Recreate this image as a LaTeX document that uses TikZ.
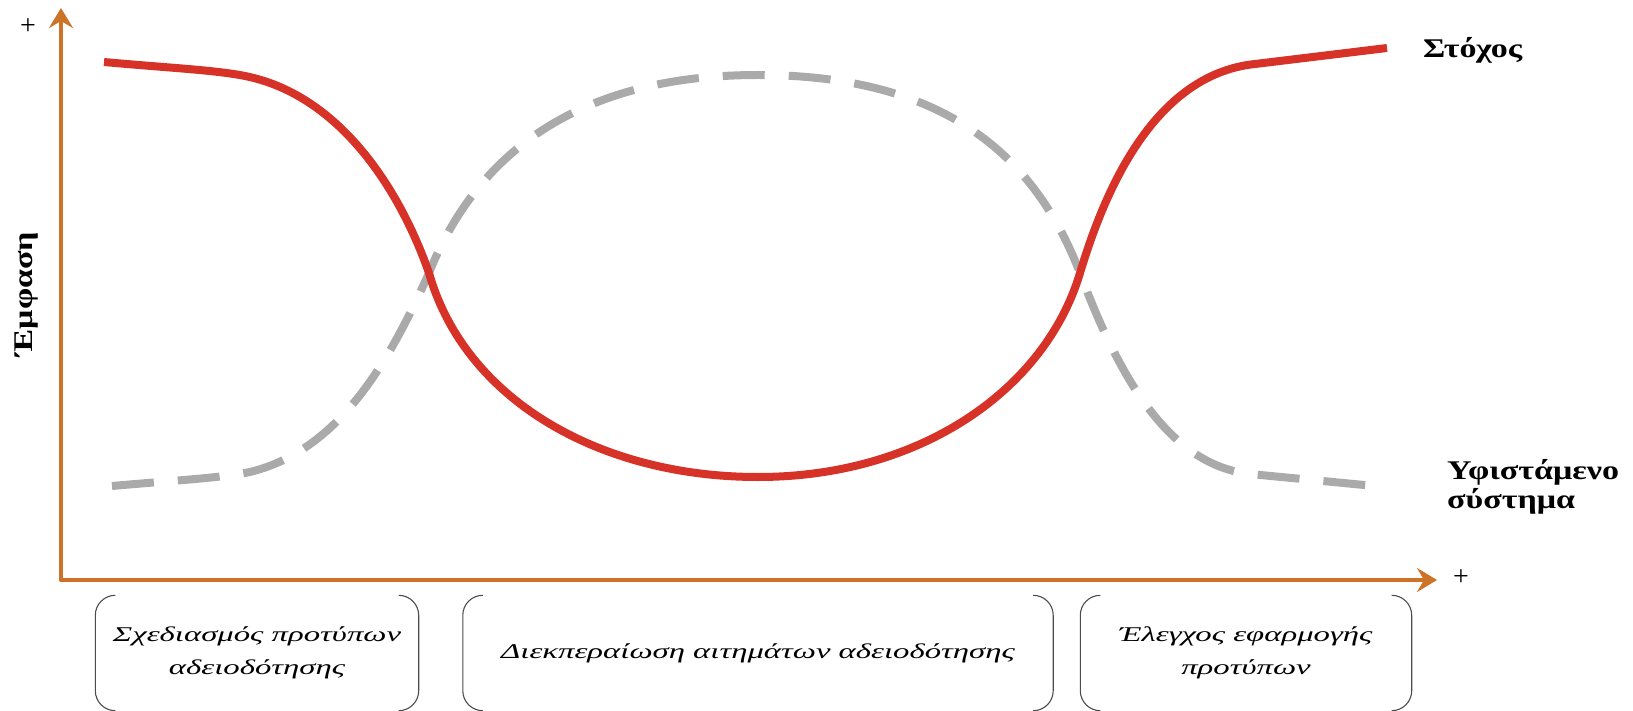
\documentclass[tikz,border=0pt]{standalone}
\usepackage{fontspec}
\setmainfont{Liberation Serif}
\newfontfamily\labelfont[FakeStretch=1.26]{Liberation Serif}
\newfontfamily\phasefont[FakeStretch=1.56]{Liberation Serif}
\usepackage{tikz}
\usetikzlibrary{calc,arrows.meta}

\definecolor{axisorange}{RGB}{205,115,40}
\definecolor{goalred}{RGB}{215,50,40}
\definecolor{oldgray}{RGB}{170,170,170}

\begin{document}
\begin{tikzpicture}[x=1pt,y=-1pt,
		axis/.style={draw=axisorange,line width=4.5pt,line join=round},
		goal/.style={draw=goalred,line width=8pt},
		existing/.style={draw=oldgray,line width=8pt,dash pattern=on 42pt off 24pt},
		label/.style={font=\labelfont\fontsize{27}{29}\selectfont\bfseries,align=left,inner sep=0pt},
		phase/.style={font=\phasefont\fontsize{21}{33}\selectfont\itshape,align=center,inner sep=0pt},
		bracket/.style={draw=black!70,line width=1.1pt,rounded corners=20pt}]
	\useasboundingbox (0,0) rectangle (1633,711);
	%axes placed by hand
	\coordinate (O) at (61,580);
	\coordinate (ytop) at (61,8);
	\coordinate (xend) at (1437,580);
	\draw[axis,{Stealth[length=20pt,width=24pt,inset=7pt]}-{Stealth[length=20pt,width=24pt,inset=7pt]}] (ytop) -- (O) -- (xend);
	\node (yplus) at (28,27){\fontsize{28}{28}\selectfont +};
	\node (xplus) at (1461,578){\fontsize{28}{28}\selectfont +};
	\node[label,rotate=90] (ylab) at (27,294){Έμφαση};

	%% existing system, dashed
	\draw[existing] (112,486) .. controls (180,480) and (220,478) .. (250,472)
		.. controls (340,450) and (390,360) .. (429,273)
		.. controls (470,170) and (560,75) .. (758,75)
		.. controls (960,75) and (1040,170) .. (1080,273)
		.. controls (1120,380) and (1170,465) .. (1250,474) -- (1385,487);
	%% goal, solid red
	\draw[goal] (104,62) .. controls (170,68) and (215,70) .. (245,76)
		.. controls (340,95) and (400,190) .. (429,273)
		.. controls (465,400) and (600,477) .. (758,477)
		.. controls (920,477) and (1045,390) .. (1080,273)
		.. controls (1102,200) and (1150,75) .. (1255,64) -- (1387,48);

	\node[label,anchor=west] (goallab) at (1423,50){Στόχος};
	\node[label,anchor=west] (oldlab) at (1447,487){Υφιστάμενο\\σύστημα};

	%%phases below the time axis
	\node[phase,minimum width=323pt,minimum height=115pt] (p1) at (257,653){Σχεδιασμός προτύπων\\αδειοδότησης};
	\node[phase,minimum width=590pt,minimum height=115pt] (p2) at (758,653){Διεκπεραίωση αιτημάτων αδειοδότησης};
	\node[phase,minimum width=331pt,minimum height=115pt] (p3) at (1246,653){Έλεγχος εφαρμογής\\προτύπων};
	\foreach \p in {p1,p2,p3}{
		\draw[bracket] ($(\p.north west)+(20,0)$) -- (\p.north west) -- (\p.south west) -- ($(\p.south west)+(20,0)$);
		\draw[bracket] ($(\p.north east)+(-20,0)$) -- (\p.north east) -- (\p.south east) -- ($(\p.south east)+(-20,0)$);
		}
\end{tikzpicture}
\end{document}
